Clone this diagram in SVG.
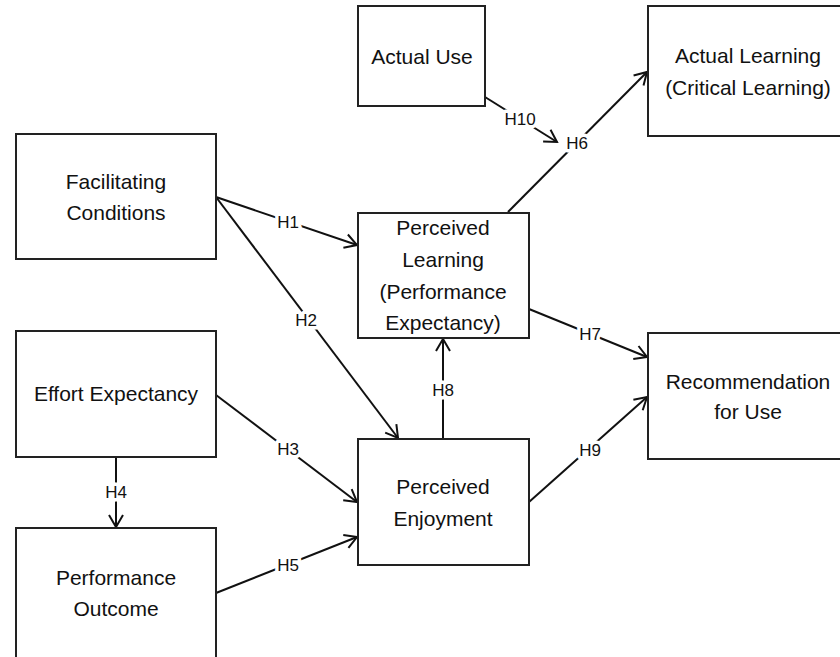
<svg xmlns="http://www.w3.org/2000/svg" width="840" height="657" viewBox="0 0 840 657">
<style>
.box{fill:#fff;stroke:#222;stroke-width:2}
.t{font-family:"Liberation Sans",Arial,sans-serif;font-size:21px;fill:#111;text-anchor:middle}
.c{fill:none;stroke:#111;stroke-width:2}
.l{font-family:"Liberation Sans",Arial,sans-serif;font-size:17px;fill:#111;text-anchor:middle;stroke:#fff;stroke-width:7;paint-order:stroke;stroke-linejoin:round}
</style>
<defs>
<marker id="arr" markerUnits="userSpaceOnUse" markerWidth="20" markerHeight="20" viewBox="-14 -10 16 20" refX="0" refY="0" orient="auto">
<path d="M-12,-7 L0,0 L-12,7" fill="none" stroke="#111" stroke-width="2"/>
</marker>
</defs>
<rect width="840" height="657" fill="#fff"/>
<g id="connectors">
<line class="c" x1="216" y1="197" x2="357" y2="245" marker-end="url(#arr)"/>
<line class="c" x1="216" y1="197" x2="398" y2="438" marker-end="url(#arr)"/>
<line class="c" x1="216" y1="395" x2="357" y2="502" marker-end="url(#arr)"/>
<line class="c" x1="116" y1="457" x2="116" y2="527" marker-end="url(#arr)"/>
<line class="c" x1="216" y1="593" x2="357" y2="537" marker-end="url(#arr)"/>
<line class="c" x1="508" y1="212" x2="647" y2="72" marker-end="url(#arr)"/>
<line class="c" x1="485" y1="97" x2="557" y2="142" marker-end="url(#arr)"/>
<line class="c" x1="529" y1="309" x2="647" y2="357" marker-end="url(#arr)"/>
<line class="c" x1="529" y1="502" x2="647" y2="397" marker-end="url(#arr)"/>
<line class="c" x1="443" y1="439" x2="443" y2="339" marker-end="url(#arr)"/>
<text class="l" x="288" y="228">H1</text>
<text class="l" x="306" y="326">H2</text>
<text class="l" x="288" y="455">H3</text>
<text class="l" x="116" y="498">H4</text>
<text class="l" x="288" y="571">H5</text>
<text class="l" x="577" y="149">H6</text>
<text class="l" x="520" y="125">H10</text>
<text class="l" x="590" y="340">H7</text>
<text class="l" x="590" y="456">H9</text>
<text class="l" x="443" y="396">H8</text>
</g>
<g id="actual-use">
<rect class="box" x="358" y="6" width="127" height="100"/>
<text class="t" x="422" y="64">Actual Use</text>
</g>
<g id="actual-learning">
<rect class="box" x="648" y="6" width="200" height="130"/>
<text class="t" x="748" y="63">Actual Learning</text>
<text class="t" x="748" y="95">(Critical Learning)</text>
</g>
<g id="facilitating-conditions">
<rect class="box" x="16" y="134" width="200" height="125"/>
<text class="t" x="116" y="189">Facilitating</text>
<text class="t" x="116" y="220">Conditions</text>
</g>
<g id="perceived-learning">
<rect class="box" x="358" y="213" width="171" height="125"/>
<text class="t" x="443" y="235">Perceived</text>
<text class="t" x="443" y="267">Learning</text>
<text class="t" x="443" y="299">(Performance</text>
<text class="t" x="443" y="330">Expectancy)</text>
</g>
<g id="effort-expectancy">
<rect class="box" x="16" y="331" width="200" height="126"/>
<text class="t" x="116" y="401">Effort Expectancy</text>
</g>
<g id="recommendation">
<rect class="box" x="648" y="333" width="200" height="126"/>
<text class="t" x="748" y="389">Recommendation</text>
<text class="t" x="748" y="419">for Use</text>
</g>
<g id="perceived-enjoyment">
<rect class="box" x="358" y="439" width="171" height="126"/>
<text class="t" x="443" y="494">Perceived</text>
<text class="t" x="443" y="526">Enjoyment</text>
</g>
<g id="performance-outcome">
<rect class="box" x="16" y="528" width="200" height="140"/>
<text class="t" x="116" y="585">Performance</text>
<text class="t" x="116" y="616">Outcome</text>
</g>
</svg>
